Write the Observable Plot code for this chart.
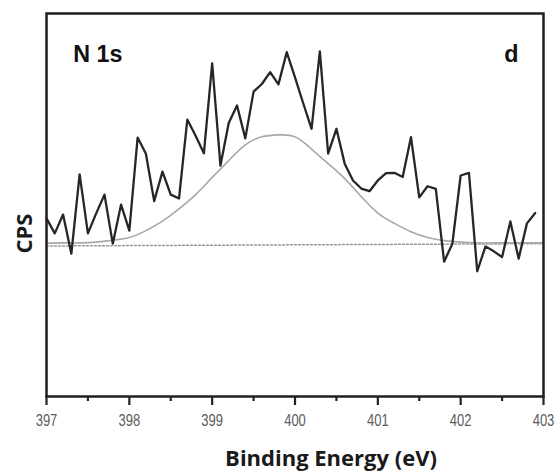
<!DOCTYPE html>
<html><head><meta charset="utf-8">
<script src="https://cdn.jsdelivr.net/npm/d3@7"></script>
<script src="https://cdn.jsdelivr.net/npm/@observablehq/plot@0.6"></script>
<style>body{margin:0;background:#fff}</style>
</head><body><div id="chart"></div>
<script>
// Binding energy (eV) of each measured point
const energy = [397.0,397.1,397.2,397.3,397.4,397.5,397.6,397.7,397.8,397.9,
  398.0,398.1,398.2,398.3,398.4,398.5,398.6,398.7,398.8,398.9,
  399.0,399.1,399.2,399.3,399.4,399.5,399.6,399.7,399.8,399.9,
  400.0,400.1,400.2,400.3,400.4,400.5,400.6,400.7,400.8,400.9,
  401.0,401.1,401.2,401.3,401.4,401.5,401.6,401.7,401.8,401.9,
  402.0,402.1,402.2,402.3,402.4,402.5,402.6,402.7,402.8,402.9];
// Measured CPS (arbitrary units)
const cps = [46.5,42.6,47.5,37.3,58.0,42.6,47.8,52.7,39.9,50.1,
  43.3,67.6,63.4,51.0,58.7,52.7,51.7,72.3,68.1,63.5,
  87.0,60.3,71.4,76.0,67.4,79.6,81.6,84.7,81.5,89.9,
  83.3,76.5,69.9,90.1,63.4,69.9,60.8,56.4,54.3,53.6,
  56.4,58.3,58.4,57.3,67.7,52.0,54.9,54.2,35.2,39.9,
  57.7,58.4,32.7,39.2,37.9,36.4,45.7,36.0,45.2,47.9];
// Fitted component
const fitEnergy = [397.0,397.2,397.4,397.6,397.8,398.0,398.2,398.4,398.6,398.8,
  399.0,399.2,399.4,399.6,399.8,400.0,400.2,400.4,400.6,400.8,
  401.0,401.2,401.4,401.6,401.8,402.0,402.2,402.4,402.6,402.8,403.0];
const fitCps = [40.0,40.1,40.1,40.3,40.8,41.5,43.3,45.8,49.0,52.7,
  57.2,61.6,65.7,67.8,68.3,67.8,64.6,60.8,56.9,52.2,
  47.9,45.2,43.0,41.5,40.7,40.3,40.1,40.1,40.1,40.1,40.1];
// Background (dotted)
const bgEnergy = [397.0, 403.0];
const bgCps = [39.3, 39.9];
// Axis ticks
const majorTicks = [397,398,399,400,401,402,403];
const minorTicks = [397.5,398.5,399.5,400.5,401.5,402.5];
const xTitle = "Binding Energy (eV)";
const yTitle = "CPS";
const panelTitle = "N 1s";
const panelLetter = "d";

const data = energy.map((e,i)=>({e, v: cps[i]}));
const fit = fitEnergy.map((e,i)=>({e, v: fitCps[i]}));
const bg = bgEnergy.map((e,i)=>({e, v: bgCps[i]}));

const frameH = 473 - 13 - 77;

const chart = Plot.plot({
  width: 555, height: 473,
  marginLeft: 46, marginRight: 12, marginTop: 13, marginBottom: 77,
  style: {background: "#fff"},
  x: {domain: [397, 403]},
  y: {domain: [0, 100], axis: null},
  marks: [
    Plot.line(bg, {x: "e", y: "v", stroke: "#9a9a9a", strokeWidth: 1.5, strokeDasharray: "2,2"}),
    Plot.line(fit, {x: "e", y: "v", curve: "natural", stroke: "#a8a8a8", strokeWidth: 1.6}),
    Plot.line(data, {x: "e", y: "v", stroke: "#262626", strokeWidth: 2.3}),
    // tick marks below the bottom edge (major and minor)
    Plot.ruleX(majorTicks, {stroke: "#222", strokeWidth: 2.2, insetTop: frameH, insetBottom: -9}),
    Plot.ruleX(minorTicks, {stroke: "#222", strokeWidth: 2.2, insetTop: frameH, insetBottom: -5}),
    Plot.frame({stroke: "#1e1e1e", strokeWidth: 2.5}),
    Plot.axisX({ticks: majorTicks, tickSize: 0, tickPadding: 18, tickFormat: d => String(d),
      fill: "#5c5c5c", fontSize: 16.5,
      fontFamily: "Liberation Sans Narrow, Arial Narrow, Liberation Sans, Arial, sans-serif", label: null}),
    Plot.text([panelTitle], {frameAnchor: "top-left", textAnchor: "start", lineAnchor: "bottom",
      dx: 26.7, dy: 48, fontSize: 23.3, fontWeight: "bold", fontFamily: "Liberation Sans, Arial, sans-serif",
      fill: "#111", ariaLabel: "panel-title"}),
    Plot.text([panelLetter], {frameAnchor: "top-right", textAnchor: "end", lineAnchor: "bottom",
      dx: -25, dy: 48, fontSize: 23.3, fontWeight: "bold", fontFamily: "Liberation Sans, Arial, sans-serif",
      fill: "#111", ariaLabel: "panel-letter"}),
    Plot.text([xTitle], {frameAnchor: "bottom", textAnchor: "middle", lineAnchor: "bottom",
      dx: 36, dy: 69, fontSize: 22, fontWeight: "bold", fontFamily: "Open Sans, sans-serif",
      fill: "#1a1a1a", ariaLabel: "x-title"}),
    Plot.text([yTitle], {frameAnchor: "left", textAnchor: "middle", lineAnchor: "bottom", rotate: -90,
      dx: -15, dy: 28.5, fontSize: 22, fontWeight: "bold", fontFamily: "Open Sans, sans-serif",
      fill: "#1a1a1a", ariaLabel: "y-title"})
  ]
});
document.getElementById("chart").appendChild(chart);

const svg = d3.select(chart);
svg.selectAll('g[aria-label="x-axis tick label"] text')
  .filter(function(){ return this.textContent.trim() !== ""; })
  .attr("fill", "#5c5c5c")
  .attr("textLength", 21.7).attr("lengthAdjust", "spacingAndGlyphs");
svg.selectAll('g[aria-label="panel-title"] text').attr("textLength", 56.7).attr("lengthAdjust", "spacingAndGlyphs");
svg.selectAll('g[aria-label="x-title"] text').attr("textLength", 220.7).attr("lengthAdjust", "spacingAndGlyphs");
svg.selectAll('g[aria-label="y-title"] text').attr("textLength", 40).attr("lengthAdjust", "spacingAndGlyphs");
</script>
</body></html>
